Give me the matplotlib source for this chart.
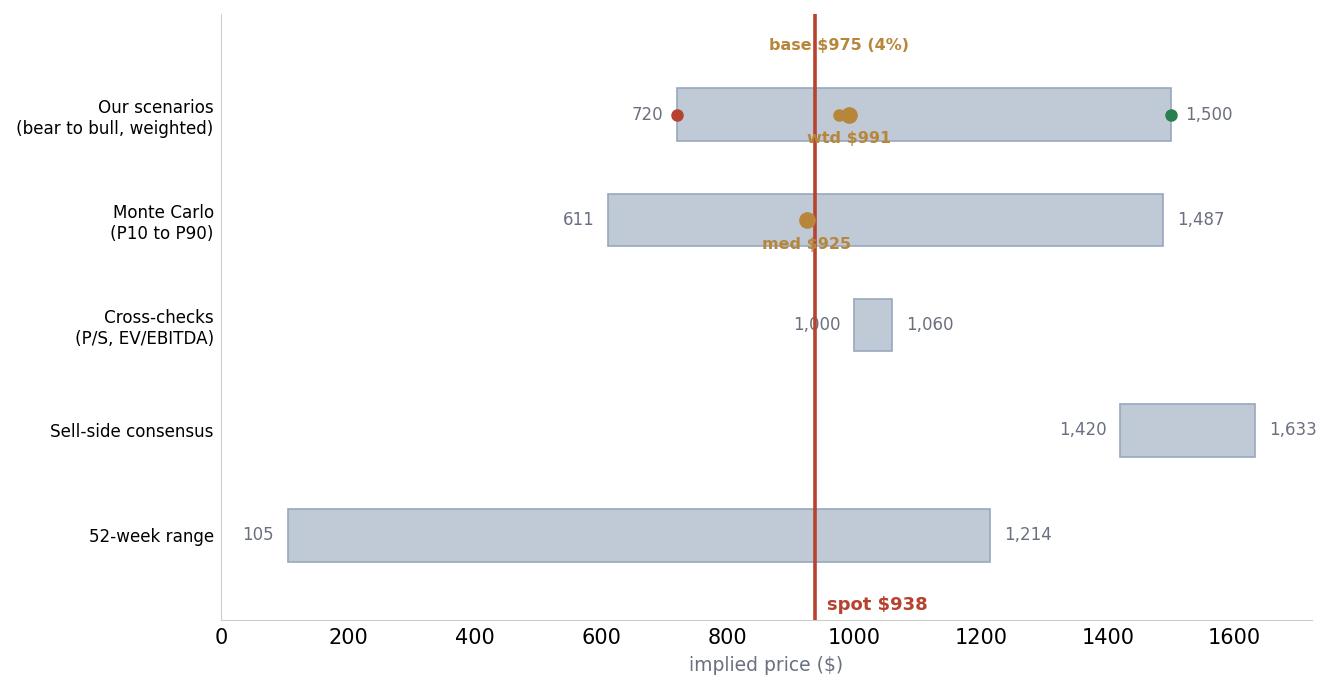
import numpy as np
import matplotlib.pyplot as plt

labels = ["52-week range", "Sell-side consensus", "Cross-checks\n(P/S, EV/EBITDA)",
          "Monte Carlo\n(P10 to P90)", "Our scenarios\n(bear to bull, weighted)"]
lows = [105, 1420, 1000, 611, 720]
highs = [1214, 1633, 1060, 1487, 1500]
spot = 938
base = 975
base_pct = 4
wtd = 991
med = 925

bar_c = "#c0cad6"
edge_c = "#98a8bd"
red = "#b5432f"
green = "#2a7f4f"
gold = "#b8863b"
grey = "#6b7080"

fig, ax = plt.subplots(figsize=(13.33, 6.9), dpi=100)
fig.subplots_adjust(left=0.166, right=0.984, top=0.98, bottom=0.102)

y = np.arange(len(labels))
ax.barh(y, np.array(highs) - np.array(lows), left=lows, height=0.5,
        color=bar_c, edgecolor=edge_c, linewidth=1.2, zorder=2)
for yi, lo, hi in zip(y, lows, highs):
    ax.text(lo - 22, yi, f"{lo:,}", ha="right", va="center", fontsize=12, color=grey)
    ax.text(hi + 22, yi, f"{hi:,}", ha="left", va="center", fontsize=12, color=grey)

ax.axvline(spot, color=red, lw=2.6, zorder=3)
ax.text(spot + 18, -0.66, f"spot ${spot}", color=red, fontsize=13, fontweight="bold",
        ha="left", va="center")

# scenarios row
ax.plot(lows[4], 4, "o", color=red, ms=8, zorder=4)
ax.plot(highs[4], 4, "o", color=green, ms=8, zorder=4)
ax.plot(base, 4, "o", color=gold, ms=8, zorder=4)
ax.plot(wtd, 4, "o", color=gold, ms=11, zorder=4)
ax.text(base, 4.66, f"base ${base} ({base_pct}%)", color=gold, fontsize=11.5,
        fontweight="bold", ha="center", va="center")
ax.text(wtd, 3.77, f"wtd ${wtd}", color=gold, fontsize=11.5, fontweight="bold",
        ha="center", va="center", zorder=5)

# monte carlo
ax.plot(med, 3, "o", color=gold, ms=11, zorder=4)
ax.text(med, 2.77, f"med ${med}", color=gold, fontsize=11.5, fontweight="bold",
        ha="center", va="center", zorder=5)

ax.set_yticks(y)
ax.set_yticklabels(labels, fontsize=12.1)
ax.tick_params(axis="y", length=0, pad=5.5)
ax.tick_params(axis="x", labelsize=15, length=0, pad=6)
ax.set_xlim(0, 1722)
ax.set_ylim(-0.8, 4.96)
ax.set_xlabel("implied price ($)", fontsize=13.5, color=grey, labelpad=6)

for s in ["top", "right"]:
    ax.spines[s].set_visible(False)
for s in ["left", "bottom"]:
    ax.spines[s].set_color("#cccccc")

fig.savefig("out.png", dpi=100)
